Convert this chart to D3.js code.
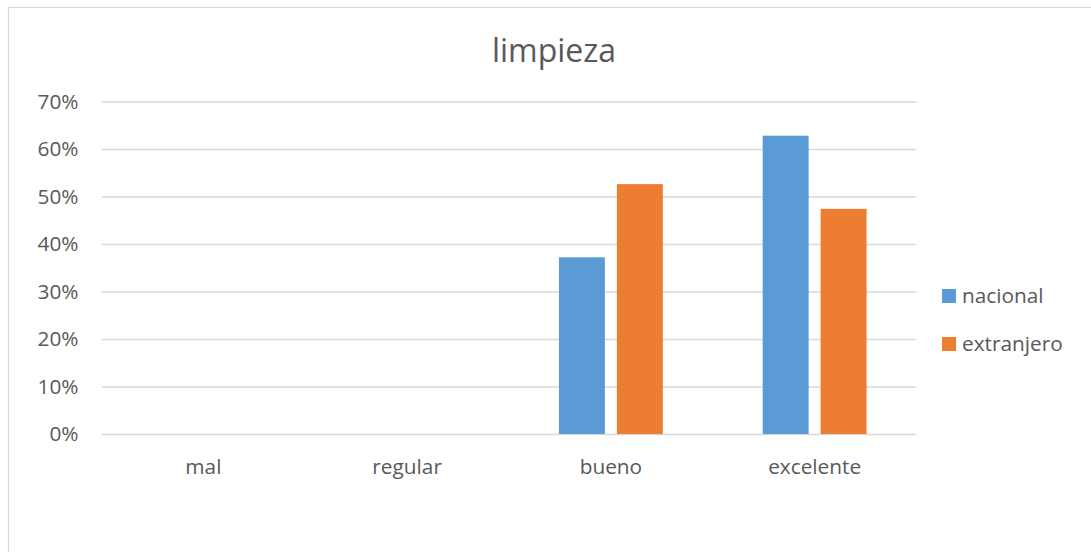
<!DOCTYPE html>
<html>
<head>
<meta charset="utf-8">
<script src="https://cdn.jsdelivr.net/npm/d3@7"></script>
<style>
  html, body { margin: 0; padding: 0; background: #fff; }
  svg { display: block; font-family: "Open Sans", "Noto Sans", sans-serif; }
</style>
</head>
<body>
<svg id="chart" width="1091" height="552"></svg>
<script>
// Ratings for cleanliness, by visitor origin
const categories = ["mal", "regular", "bueno", "excelente"];
const seriesNames = ["nacional", "extranjero"];
const nacional = [0, 0, 0.372, 0.628];
const extranjero = [0, 0, 0.526, 0.474];
const tickValues = [0, 0.1, 0.2, 0.3, 0.4, 0.5, 0.6, 0.7];
const colors = ["#5B9BD5", "#ED7D31"];
const title = "limpieza";

const svg = d3.select("#chart");
const W = 1091, H = 552;
const plot = { left: 101.5, right: 916.5, top: 101.5, bottom: 434 };
const textColor = "#595959";
const gridColor = "#d9d9d9";
const labelSize = "20.8px";

// Outer frame of the chart area
svg.append("rect")
  .attr("x", 8.5).attr("y", 7.5)
  .attr("width", W + 10).attr("height", H + 10)
  .attr("fill", "#fff")
  .attr("stroke", gridColor).attr("stroke-width", 1.2);

const y = d3.scaleLinear().domain([0, 0.7]).range([plot.bottom, plot.top]);
const x0 = d3.scaleBand().domain(categories).range([plot.left, plot.right]).padding(0);
const bw = x0.bandwidth();
const x1 = d3.scaleBand().domain(seriesNames)
  .range([bw * 0.245, bw * 0.755]).paddingInner(0.207).paddingOuter(0);

// Horizontal gridlines with percentage labels
const yAxis = d3.axisLeft(y)
  .tickValues(tickValues)
  .tickFormat(d3.format(".0%"))
  .tickSize(-(plot.right - plot.left))
  .tickPadding(23);
const gy = svg.append("g")
  .attr("transform", `translate(${plot.left},0)`)
  .call(yAxis);
gy.select(".domain").remove();
gy.selectAll(".tick line").attr("stroke", gridColor).attr("stroke-width", 1.3);
gy.selectAll(".tick text")
  .attr("fill", textColor)
  .style("font-size", labelSize)
  .style("font-family", "'Open Sans', sans-serif");

// Grouped bars
const rows = categories.map((c, i) => ({ cat: c, values: [nacional[i], extranjero[i]] }));
const groups = svg.append("g").selectAll("g")
  .data(rows).join("g")
  .attr("transform", d => `translate(${x0(d.cat)},0)`);
groups.selectAll("rect")
  .data(d => d.values.map((v, j) => ({ key: seriesNames[j], v, j })))
  .join("rect")
  .attr("x", d => x1(d.key))
  .attr("width", x1.bandwidth())
  .attr("y", d => y(d.v))
  .attr("height", d => y(0) - y(d.v))
  .attr("fill", d => colors[d.j]);

// Category axis labels
const xAxis = d3.axisBottom(x0).tickSize(0).tickPadding(25);
const gx = svg.append("g")
  .attr("transform", `translate(0,${plot.bottom})`)
  .call(xAxis);
gx.select(".domain").remove();
gx.selectAll(".tick text")
  .attr("fill", textColor)
  .style("font-size", labelSize)
  .style("font-family", "'Open Sans', sans-serif");

// Title
svg.append("text")
  .attr("x", 554).attr("y", 62)
  .attr("text-anchor", "middle")
  .attr("fill", textColor)
  .style("font-size", "32px")
  .text(title);

// Legend
const legend = svg.append("g").attr("transform", "translate(942,289)");
const li = legend.selectAll("g").data(seriesNames).join("g")
  .attr("transform", (d, i) => `translate(0,${i * 48})`);
li.append("rect").attr("width", 14).attr("height", 14)
  .attr("fill", (d, i) => colors[i]);
li.append("text")
  .attr("x", 20).attr("y", 14)
  .attr("fill", textColor)
  .style("font-size", labelSize)
  .text(d => d);
</script>
</body>
</html>
